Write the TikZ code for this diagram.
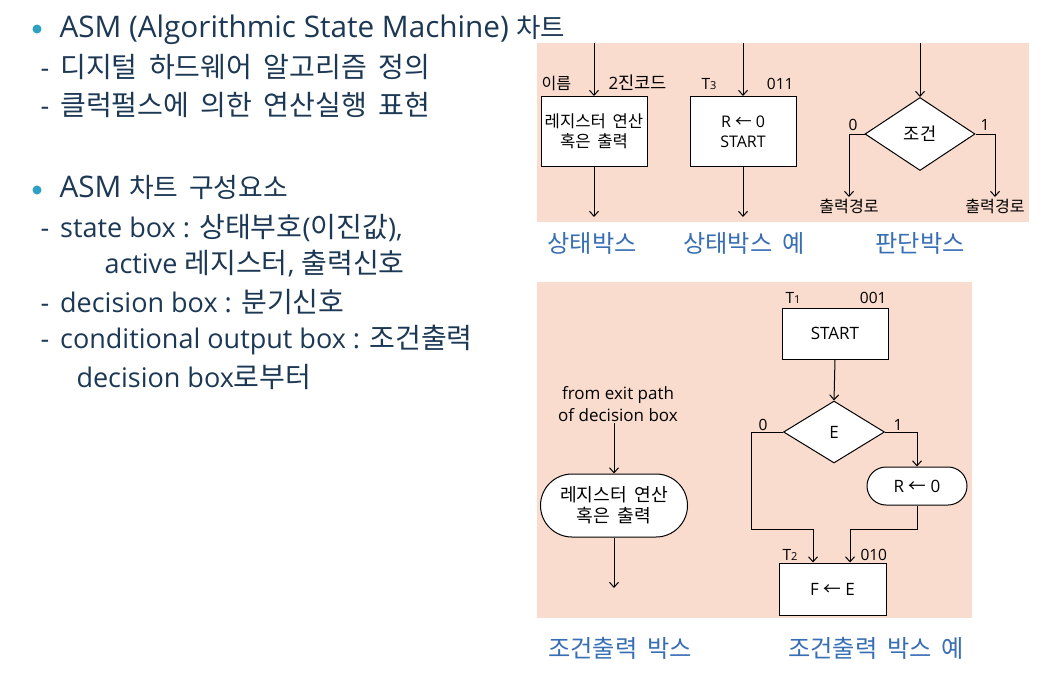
\documentclass[tikz,border=0pt]{standalone}
\usepackage{fontspec}
\setmainfont{Open Sans}
\newfontfamily\krf[WordSpace=1.8,Scale=1.04]{Noto Sans CJK KR}
\usepackage{xcolor}
\usetikzlibrary{shapes.geometric,shapes.misc,arrows.meta}

\definecolor{panel}{RGB}{250,220,206}
\definecolor{bodytxt}{RGB}{28,56,84}
\definecolor{bulletc}{RGB}{46,160,196}
\definecolor{captxt}{RGB}{56,110,180}

\newcommand{\fsz}[2]{\fontsize{#1}{#2}\selectfont}
\newcommand{\tsub}[1]{{\fsz{11}{11}#1}}
\newcommand{\larr}{{\krf ←}}

\begin{document}
\begin{tikzpicture}[
    x=1pt, y=1pt, yscale=-1, xscale=1,
    every node/.style={inner sep=1pt},
    line width=1pt,
    arr/.style={-{Straight Barb[length=5pt,width=9pt]}},
    head/.style={anchor=base west, text=bodytxt, font=\fsz{29.7}{34}},
    item/.style={anchor=base west, text=bodytxt, font=\fsz{27}{32}},
    lbl/.style={font=\fsz{15.5}{18}},
    captext/.style={text=captxt, font=\fsz{23.3}{28}\krf},
    sbox/.style={draw, fill=white, align=center, minimum width=106pt, minimum height=70pt, font=\fsz{16}{20}},
    dbox/.style={draw, fill=white, diamond, inner sep=0pt, font=\fsz{17}{20}},
    cbox/.style={draw, fill=white, rounded rectangle, align=center}
]
\useasboundingbox (0,0) rectangle (1062,680);

%==================== Left text ====================
\fill[bulletc] (37,29) circle (4.5);
\node[head] (t1) at (58,37) {ASM (Algorithmic State Machine) {\krf\fsz{25.5}{30}차트}};
\node[item] (t2) at (39,77) {-\hspace{11pt}{\krf 디지털 하드웨어 알고리즘 정의}};
\node[item] (t3) at (39,115) {-\hspace{11pt}{\krf 클럭펄스에 의한 연산실행 표현}};

\fill[bulletc] (37,190) circle (4.5);
\node[head] (t4) at (58,197) {ASM {\krf\fsz{25.8}{30}차트 구성요소}};
\node[item] (t5) at (39,237) {-\hspace{11pt}state box : {\krf 상태부호}({\krf 이진값}),};
\node[item] (t6) at (103,273) {active {\krf 레지스터}, {\krf 출력신호}};
\node[item] (t7) at (39,312) {-\hspace{11pt}decision box : {\krf 분기신호}};
\node[item] (t8) at (39,348) {-\hspace{11pt}conditional output box : {\krf 조건출력}};
\node[item] (t9) at (75,387) {decision box{\krf 로부터}};

%==================== Top panel ====================
\fill[panel] (537,43) rectangle (1029,222);

% state box
\node[sbox] (reg) at (594,131.5) {{\krf 레지스터 연산}\\{\krf 혹은 출력}};
\coordinate (regin)  at (594,43);
\coordinate (regout) at (594,217);
\draw[arr] (regin) -- (reg.north);
\draw[arr] (reg.south) -- (regout);
\node[lbl, anchor=base west] (regname) at (540,89) {\krf 이름};
\node[lbl, anchor=base west, font=\fsz{17}{18}] (regcode) at (607,89) {2{\krf 진코드}};

% state box example
\node[sbox] (ex) at (743,131.5) {R \larr{} 0\\START};
\coordinate (exin)  at (743,43);
\coordinate (exout) at (743,217);
\draw[arr] (exin) -- (ex.north);
\draw[arr] (ex.south) -- (exout);
\node[lbl, anchor=base west] (exname) at (700,89) {T\tsub{3}};
\node[lbl, anchor=base east] (excode) at (795,89) {011};

% decision box
\node[dbox, minimum width=110pt, minimum height=73pt] (cond) at (920,134) {\krf 조건};
\coordinate (condin) at (920,43);
\coordinate (cond0)  at (849,197);
\coordinate (cond1)  at (995,197);
\draw[arr] (condin) -- (cond.north);
\draw[arr] (cond.west) -| (cond0);
\draw[arr] (cond.east) -| (cond1);
\node[lbl, anchor=base] (c0) at (853,130) {0};
\node[lbl, anchor=base] (c1) at (985,130) {1};
\node[lbl, font=\fsz{15.5}{18}\krf] (path0) at (849,206) {출력경로};
\node[lbl, font=\fsz{15.5}{18}\krf] (path1) at (995,206) {출력경로};

% captions
\node[captext] (cap1) at (592,243) {상태박스};
\node[captext] (cap2) at (744,243) {상태박스 예};
\node[captext] (cap3) at (920,243) {판단박스};

%==================== Bottom panel ====================
\fill[panel] (537,282) rectangle (972,618);

% conditional output box
\node[font=\fsz{17}{22}, align=center] (from) at (618,404) {from exit path\\of decision box};
\node[cbox, minimum width=149pt, minimum height=63pt, font=\fsz{17.5}{21}] (term) at (614,505.5) {{\krf 레지스터 연산}\\{\krf 혹은 출력}};
\coordinate (termout) at (614,588);
\draw[arr] (term.north |- from.south) -- (term.north);
\draw[arr] (term.south) -- (termout);

% example chart
\node[sbox, minimum height=51pt, font=\fsz{17}{20}] (start) at (835,333.5) {START};
\node[lbl, anchor=base west] (sname) at (784,303) {T\tsub{1}};
\node[lbl, anchor=base east] (scode) at (888,303) {001};

\node[dbox, minimum width=101pt, minimum height=62pt] (e) at (834,432) {E};
\node[lbl, anchor=base] (e0) at (763,430) {0};
\node[lbl, anchor=base] (e1) at (898,430) {1};

\node[cbox, minimum width=102pt, minimum height=38pt, font=\fsz{17}{20}] (r0) at (917,486) {R \larr{} 0};

\node[sbox, minimum width=107pt, minimum height=52pt, font=\fsz{17}{20}] (fe) at (832.5,589) {F \larr{} E};
\node[lbl, anchor=base west] (fname) at (781,560) {T\tsub{2}};
\node[lbl, anchor=base west] (fcode) at (859,560) {010};

\coordinate (lj)  at (751,529);
\coordinate (lj2) at (813,529);
\coordinate (rj)  at (850,529);

\draw[arr] (start.south) -- (e.north);
\draw[arr] (e.east) -| (r0.north);
\draw[arr] (e.west) -| (lj) -- (lj2) -- (lj2 |- fe.north);
\draw[arr] (r0.south) |- (rj) -- (rj |- fe.north);

% captions
\node[captext] (cap4) at (620,648) {조건출력 박스};
\node[captext] (cap5) at (876,648) {조건출력 박스 예};

\end{tikzpicture}
\end{document}
